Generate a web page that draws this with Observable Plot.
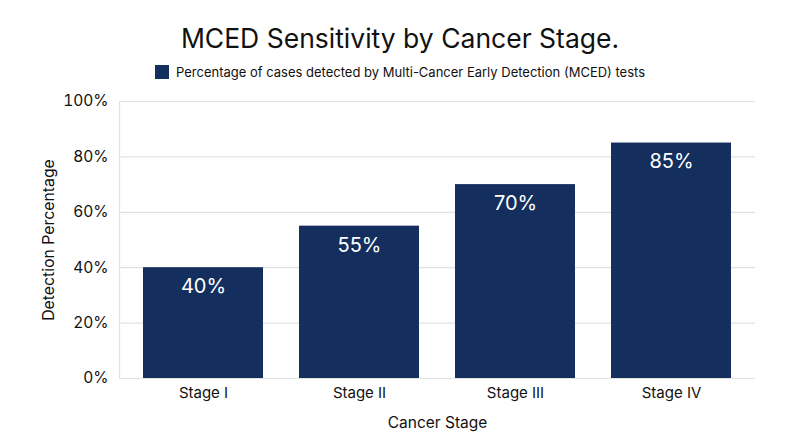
<!DOCTYPE html>
<html>
<head>
<meta charset="utf-8">
<script src="https://cdn.jsdelivr.net/npm/d3@7"></script>
<script src="https://cdn.jsdelivr.net/npm/@observablehq/plot@0.6"></script>
<style>
  html, body { margin: 0; padding: 0; background: #fff; }
  body { width: 800px; height: 447px; overflow: hidden; font-family: Inter, "Noto Sans", sans-serif; color: #111; }
  #title { margin-top: 20px; height: 36px; line-height: 36px; text-align: center; font-size: 26.5px; font-weight: 400; }
  #legend { margin-top: 6px; height: 20px; line-height: 20px; text-align: center; font-size: 13px; }
  #legend .sw { display: inline-block; width: 14px; height: 14px; background: #142f5e; vertical-align: -2px; margin-right: 7px; }
  #chart svg { display: block; }
</style>
</head>
<body>
<div id="title">MCED Sensitivity by Cancer Stage.</div>
<div id="legend"><span class="sw"></span>Percentage of cases detected by Multi-Cancer Early Detection (MCED) tests</div>
<div id="chart"></div>
<script>
const stages = ["Stage I", "Stage II", "Stage III", "Stage IV"];
const detection = [40, 55, 70, 85];
const yTicks = [0, 20, 40, 60, 80, 100];

const data = stages.map((s, i) => ({stage: s, value: detection[i]}));
const barColor = "#142f5e";

const plot = Plot.plot({
  width: 800,
  height: 365,
  marginTop: 19,
  marginBottom: 69,
  marginLeft: 119,
  marginRight: 45,
  style: {fontFamily: "Inter, 'Noto Sans', sans-serif", color: "#111", background: "#fff"},
  x: {domain: stages, paddingInner: 0.23, paddingOuter: 0.147, label: null},
  y: {domain: [0, 100], label: null},
  marks: [
    Plot.gridY(yTicks, {stroke: "#e2e2e2", strokeOpacity: 1, strokeWidth: 1.2}),
    Plot.frame({anchor: "left", stroke: "#e2e2e2", strokeWidth: 1.2}),
    Plot.barY(data, {x: "stage", y: "value", fill: barColor}),
    Plot.text(data, {x: "stage", y: "value", text: d => d.value + "%", dy: 19, fill: "white", fontSize: 20}),
    Plot.axisY(yTicks, {tickSize: 0, tickPadding: 11, tickFormat: d => d + "%", fontSize: 15.5, label: null}),
    Plot.axisX({tickSize: 0, tickPadding: 9, fontSize: 15, label: null}),
    Plot.text(["Cancer Stage"], {frameAnchor: "bottom", dy: 49, fontSize: 15.5}),
    Plot.text(["Detection Percentage"], {frameAnchor: "left", dx: -71, rotate: -90, textAnchor: "middle", fontSize: 15.8})
  ]
});
document.getElementById("chart").appendChild(plot);
</script>
</body>
</html>
